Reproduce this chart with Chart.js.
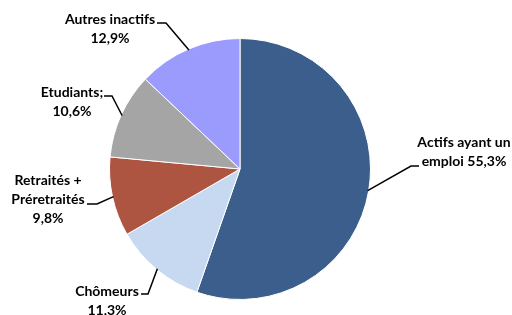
<!DOCTYPE html>
<html>
<head>
<meta charset="utf-8">
<script src="https://cdn.jsdelivr.net/npm/chart.js@4/dist/chart.umd.min.js"></script>
<style>
    html, body { margin: 0; padding: 0; background: #fff; }
    #wrap { width: 512px; height: 315px; }
</style>
</head>
<body>
<div id="wrap"><canvas id="pieChart" width="512" height="315"></canvas></div>
<script>
// data, clockwise from 12 o'clock
const categories = ['Actifs ayant un emploi', 'Chômeurs', 'Retraités + Préretraités', 'Etudiants', 'Autres inactifs'];
const values = [55.3, 11.3, 9.8, 10.6, 12.9];
const sliceColors = ['#3B5E8C', '#C6D9F1', '#AE5542', '#A5A5A5', '#9A9BFD'];
// how each label is split on lines ({v} = value)
const labelLines = [
    ['Actifs ayant un', 'emploi {v}'],
    ['Chômeurs', '{v}'],
    ['Retraités +', 'Préretraités', '{v}'],
    ['Etudiants;', '{v}'],
    ['Autres inactifs', '{v}']
];

// label placement: text centre, first line y, leader stub (x from -> x to, y)
const labelLayout = [
    { x: 464, y: 142, stubX: [419, 411], stubY: 166 },
    { x: 107, y: 291, stubX: [141, 148], stubY: 294 },
    { x: 48,  y: 180, stubX: [87, 97],   stubY: 204 },
    { x: 72,  y: 92,  stubX: [104, 112], stubY: 96 },
    { x: 110, y: 19,  stubX: [157, 166], stubY: 23 }
];

function formatValue(v) {
    return v.toFixed(1).replace('.', ',') + '%';
}

const outsideLabels = {
    id: 'outsideLabels',
    afterDraw(chart) {
        const ctx = chart.ctx;
        const meta = chart.getDatasetMeta(0);
        ctx.save();
        meta.data.forEach((arc, i) => {
            const p = arc.getProps(['x', 'y', 'startAngle', 'endAngle', 'outerRadius'], true);
            const mid = (p.startAngle + p.endAngle) / 2;
            const ex = p.x + Math.cos(mid) * (p.outerRadius - 1);
            const ey = p.y + Math.sin(mid) * (p.outerRadius - 1);
            const lay = labelLayout[i];

            // leader line
            ctx.strokeStyle = '#000';
            ctx.lineWidth = 1.5;
            ctx.beginPath();
            ctx.moveTo(ex, ey);
            ctx.lineTo(lay.stubX[1], lay.stubY);
            ctx.lineTo(lay.stubX[0], lay.stubY);
            ctx.stroke();

            // text
            ctx.fillStyle = '#000';
            ctx.font = 'bold 14px Lato, "Open Sans", sans-serif';
            ctx.textAlign = 'center';
            ctx.textBaseline = 'middle';
            labelLines[i].forEach((line, k) => {
                const txt = line.replace('{v}', formatValue(values[i]));
                ctx.fillText(txt, lay.x, lay.y + k * 19);
            });
        });
        ctx.restore();
    }
};

const ctx = document.getElementById('pieChart').getContext('2d');
new Chart(ctx, {
    type: 'pie',
    data: {
        labels: categories,
        datasets: [{
            data: values,
            backgroundColor: sliceColors,
            borderColor: '#ffffff',
            borderWidth: 1
        }]
    },
    options: {
        responsive: false,
        animation: false,
        layout: {
            padding: { left: 100, right: 132, top: 38, bottom: 15 }
        },
        plugins: {
            legend: { display: false },
            tooltip: { enabled: false }
        }
    },
    plugins: [outsideLabels]
});
</script>
</body>
</html>
